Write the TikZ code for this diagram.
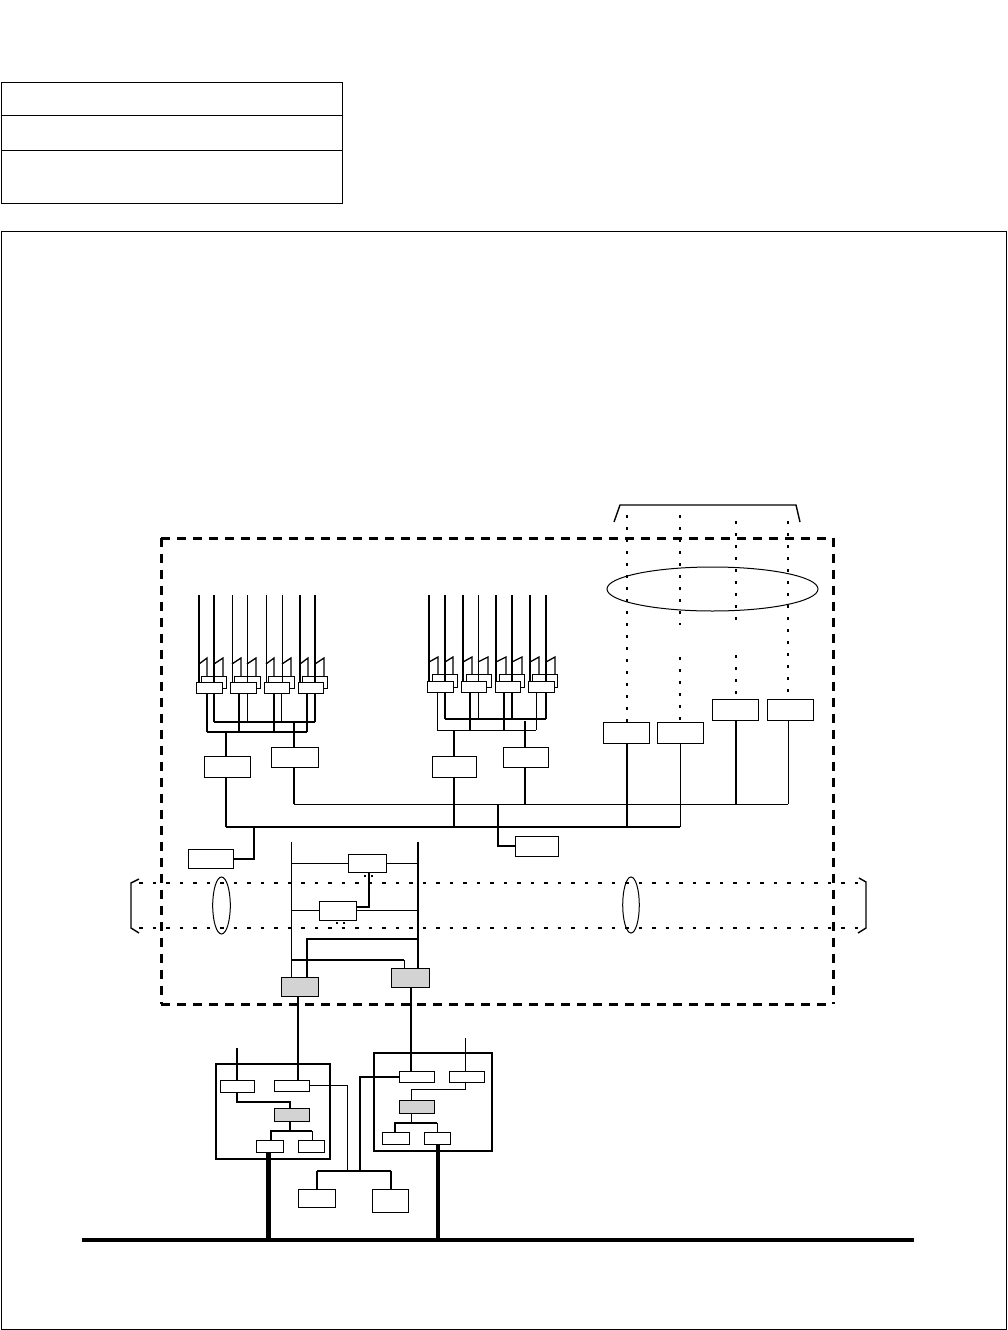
\documentclass[tikz,border=0pt]{standalone}
\usetikzlibrary{calc}
\pgfdeclarelayer{rear}\pgfdeclarelayer{wires}\pgfsetlayers{rear,wires,main}
\tikzset{
  boxstyle/.style={draw=black,line width=1pt,inner sep=0pt,outer sep=0pt,fill=white},
  grayfill/.style={fill=graybox},
  openbox/.style={fill=none},
  thin1/.style={line width=1pt},
  med/.style={line width=1.4pt},
  busline/.style={line width=1.2pt},
  hvy/.style={line width=2pt},
  dotline/.style={line width=2.4pt,dash pattern=on 3pt off 9pt},
  dothoriz/.style={line width=2.2pt,dash pattern=on 3.5pt off 10pt},
  bigdash/.style={line width=3pt,dash pattern=on 9pt off 7pt},
  tick/.style={line width=1.3pt,line join=miter}
}
\definecolor{graybox}{HTML}{D3D3D3}
\newcommand\bx[6][]{\node[boxstyle,#1,minimum width={(#5-#3)*1pt},minimum height={(#6-#4)*1pt}] (#2) at ({(#3+#5)/2},{(#4+#6)/2}) {};}
\begin{document}
\begin{tikzpicture}[x=1pt,y=-1pt]
\useasboundingbox (0,0) rectangle (1008,1330);
% frames
\bx[openbox]{tableA}{1}{82}{342}{115}
\bx[openbox]{tableB}{1}{115}{342}{150}
\bx[openbox]{tableC}{1}{150}{342}{203}
\bx[openbox]{outer}{1}{231}{1006}{1329}
\node[boxstyle,openbox,draw=none,minimum width=672pt,minimum height=466pt] (zone) at (497,771) {};
\begin{pgfonlayer}{wires}
\draw[bigdash] (zone.north west) -- (zone.north east);
\draw[bigdash] (zone.south west) -- (zone.south east);
\draw[bigdash] (zone.north west) -- (zone.south west);
\draw[bigdash] (zone.north east) -- (zone.south east);
\end{pgfonlayer}
% ---------- group 1 and 2 front and rear relay boxes
\begin{pgfonlayer}{rear}
\foreach \n/\a/\b in {1/201/226,2/234/260,3/268/294,4/302/327}{\bx{pb\n}{\a}{676}{\b}{688}}
\foreach \n/\a/\b in {1/432/457,2/466/491,3/499/524,4/532/557}{\bx{qb\n}{\a}{674}{\b}{687}}
\end{pgfonlayer}
\foreach \n/\a/\b in {1/196/222,2/230/256,3/264/289,4/298/323}{\bx{pf\n}{\a}{682}{\b}{693}}
\foreach \n/\a/\b in {1/427/453,2/461/486,3/495/520,4/528/554}{\bx{qf\n}{\a}{681}{\b}{692}}
\bx{pA}{204}{756}{250}{777}
\bx{pB}{271}{747}{318}{767}
\bx{qA}{432}{756}{476}{777}
\bx{qB}{503}{747}{548}{767}
% right hand boxes
\bx{rE}{603}{722}{649}{743}
\bx{rF}{657}{722}{703}{743}
\bx{rG}{712}{699}{758}{720}
\bx{rH}{767}{699}{813}{720}
\bx{sI}{188}{849}{233}{868}
\bx{sJ}{515}{836}{558}{856}
\bx{sK}{348}{854}{386}{872}
\bx{sL}{319}{901}{356}{920}
\bx[grayfill]{sM}{281}{977}{318}{996}
\bx[grayfill]{sN}{391}{968}{429}{987}
% lower units
\bx[openbox,line width=1.5pt]{unitQ}{216}{1064}{330}{1159}
\bx[openbox,line width=1.2pt]{unitR}{374}{1053}{492}{1151}
\bx{qS1}{220}{1080}{254}{1092}
\bx{qS2}{274}{1080}{309}{1091}
\bx[grayfill]{qT}{274}{1108}{309}{1121}
\bx{qU1}{256}{1140}{283}{1152}
\bx{qU2}{298}{1140}{324}{1152}
\bx{rW1}{399}{1071}{434}{1082}
\bx{rW2}{449}{1071}{484}{1082}
\bx[grayfill]{rX}{399}{1100}{434}{1113}
\bx{rY1}{382}{1132}{409}{1144}
\bx{rY2}{424}{1132}{450}{1144}
\bx{vA}{298}{1189}{335}{1207}
\bx{vB}{372}{1189}{408}{1212}
\node[boxstyle,openbox,draw=none,minimum width=211pt,minimum height=44pt] (oval1) at (712.5,589) {};
\begin{pgfonlayer}{wires}
% group 1 inputs
\foreach \k/\x/\tx/\w in {1/199/207/2pt,1/214/223/2pt,2/232/241/1pt,2/247/256/1pt,3/266/274/1pt,3/282/291/1pt,4/300/308/2pt,4/315/324/2pt}{
  \coordinate (pt\x) at (\x,595);
  \draw[line width=\w] (pt\x) -- (pt\x |- pf\k.north);
  \draw[tick] (\x,664) -- (\tx,658) -- (\tx,676);
}
% group 2 inputs
\foreach \k/\x/\tx/\w in {1/429/438/2pt,1/445/453/2pt,2/463/472/2pt,2/478/488/1pt,3/496/506/2pt,3/512/522/2pt,4/530/539/2pt,4/546/555/2pt}{
  \coordinate (qt\x) at (\x,595);
  \draw[line width=\w] (qt\x) -- (qt\x |- qf\k.north);
  \draw[tick] (\x,662) -- (\tx,657) -- (\tx,674);
}
% group 1 lower buses
\coordinate (pu1) at (214,722); \coordinate (pu2) at (315,722);
\coordinate (pv1) at (207,732); \coordinate (pv2) at (307,732);
\draw[hvy] (pu1) -- (pu2);
\draw[hvy] (pv1) -- (pv2);
\foreach \k/\x/\w in {1/207/1.3pt,2/239/2pt,3/274/2pt,4/307/2pt}{\draw[line width=\w] (pf\k.south -| \x,0) -- (\x,732);}
\foreach \k/\x/\w in {1/214/2pt,2/247/1pt,3/281/1pt,4/315/2pt}{\draw[line width=\w] (pf\k.south -| \x,0) -- (\x,722);}
\draw[hvy] (226,732) -- (pA.north -| 226,0);
\draw[hvy] (294,722) -- (pB.north -| 294,0);
% group 2 lower buses
\coordinate (qu1) at (445,719); \coordinate (qu2) at (546,719);
\coordinate (qv1) at (437,730); \coordinate (qv2) at (536,730);
\draw[hvy] (qu1) -- (qu2);
\draw[thin1] (qv1) -- (qv2);
\foreach \k/\x/\w in {1/437/1pt,2/470/2pt,3/504/2pt,4/536/1pt}{\draw[line width=\w] (qf\k.south -| \x,0) -- (\x,730);}
\foreach \k/\x/\w in {1/445/2pt,2/478/1pt,3/512/2pt,4/546/2pt}{\draw[line width=\w] (qf\k.south -| \x,0) -- (\x,719);}
\draw[hvy] (454,730) -- (qA.north -| 454,0);
\draw[hvy] (525,721) -- (qB.north -| 525,0);
% main horizontal buses
\coordinate (bus4a) at (294,804); \coordinate (bus4b) at (788,804);
\coordinate (bus8a) at (226,827); \coordinate (bus8b) at (680,827);
\draw[thin1] (bus4a) -- (bus4b);
\draw[busline] (bus8a) -- (bus8b);
\draw[med] (pA.south -| 226,0) -- (bus8a);
\draw[med] (pB.south -| 294,0) -- (bus4a);
\draw[med] (qA.south -| 454,0) -- (454,827);
\draw[med] (qB.south -| 525,0) -- (525,804);
\draw[hvy] (rE.south -| 627,0) -- (627,827);
\draw[thin1] (rF.south -| 680,0) -- (bus8b);
\draw[hvy] (rG.south -| 736,0) -- (736,804);
\draw[thin1] (rH.south -| 788,0) -- (bus4b);
\draw[hvy] (sI.east) -| (254,827);
\draw[med] (498,804) |- (sJ.west);
% dotted feeders
\coordinate (brk1) at (620,505); \coordinate (brk2) at (796,505);
\draw[med] (614,522) -- (brk1) -- (brk2) -- (800,522);
\draw[dotline] (627,515) -- (rE.north -| 627,0);
\draw[dotline] (680,515) -- (680,625);
\draw[dotline] (680,657) -- (rF.north -| 680,0);
\draw[dotline] (736,521) -- (736,622);
\draw[dotline] (736,655) -- (rG.north -| 736,0);
\draw[dotline] (788,521) -- (rH.north -| 788,0);
% horizontal dotted pair with brackets
\coordinate (dA1) at (139,883); \coordinate (dA2) at (861,883);
\coordinate (dB1) at (139,928); \coordinate (dB2) at (861,928);
\draw[dothoriz] (dA1) -- (dA2);
\draw[dothoriz] (dB1) -- (dB2);
\draw[med] (139,879) -- (131,883) -- (131,928) -- (139,933);
\draw[med] (859,878) -- (866,882) -- (866,928) -- (858,933);
% centre rails
\coordinate (railA) at (291,842); \coordinate (railB) at (418,842);
\draw[thin1] (railA) -- (railA |- sM.north);
\draw[med] (railB) -- (railB |- sN.north);
\draw[thin1] (sK.west) -- (sK.west -| railA);
\draw[thin1] (sK.east) -- (sK.east -| railB);
\draw[thin1] (sL.west) -- (sL.west -| railA);
\draw[thin1] (sL.east) -- (sL.east -| railB);
\draw[hvy] (356,907) -| (369,872);
\draw[line width=1.5pt,dash pattern=on 1.5pt off 5.5pt] (365,875) -- (365,877);
\draw[line width=1.5pt,dash pattern=on 1.5pt off 5.5pt] (372,875) -- (372,877);
\draw[line width=1.5pt,dash pattern=on 1.5pt off 5.5pt] (337,922) -- (337,924);
\draw[line width=1.5pt,dash pattern=on 1.5pt off 5.5pt] (344,922) -- (344,924);
\draw[hvy] (sM.north -| 307,0) |- (418,939);
\draw[med] (291,960) -- (404,960);
\draw[thin1] (404,960) -- (sN.north -| 404,0);
% links to lower units
\draw[hvy] (sM.south -| 298,0) -- (qS2.north -| 298,0);
\draw[hvy] (sN.south -| 411,0) -- (rW1.north -| 411,0);
\coordinate (inL) at (237,1048); \coordinate (inR) at (465,1038);
\draw[med] (inL) -- (inL |- qS1.north);
\draw[thin1] (inR) -- (inR |- rW2.north);
\draw[hvy] (qS1.south) |- (290,1102) -- (qT.north -| 290,0);
\draw[hvy] (qT.south -| 290,0) -- (290,1131);
\draw[hvy] (qU1.north -| 271,0) |- (312,1131);
\draw[thin1] (312,1131) -- (qU2.north -| 312,0);
\draw[thin1] (qS2.east) -| (347,1171);
\coordinate (busV1) at (317,1171); \coordinate (busV2) at (391,1171);
\draw[hvy] (busV1) -- (busV2);
\draw[hvy] (vA.north -| 317,0) -- (busV1);
\draw[hvy] (vB.north -| 391,0) -- (busV2);
\draw[hvy] (360,1171) |- (rW1.west);
\draw[thin1] (rW2.south -| 465,0) |- (411,1089) -- (rX.north -| 411,0);
\draw[thin1] (rX.south -| 411,0) -- (411,1123);
\draw[hvy] (rY1.north -| 395,0) |- (437,1123);
\draw[thin1] (437,1123) -- (rY2.north -| 437,0);
% main bus
\coordinate (mainL) at (82,1240); \coordinate (mainR) at (914,1240);
\draw[line width=3.5pt] (mainL) -- (mainR);
\draw[line width=5pt] (qU1.south -| 268,0) -- (268,1240);
\draw[line width=4pt] (rY2.south -| 438,0) -- (438,1240);
\end{pgfonlayer}
% ellipses
\draw[thin1] (oval1.center) ellipse [x radius=105.5,y radius=22];
\node[boxstyle,openbox,draw=none] (oval2) at (221.5,905.5) {};
\node[boxstyle,openbox,draw=none] (oval3) at (631,905) {};
\draw[thin1] (oval2.center) ellipse [x radius=8.8,y radius=28.5];
\draw[thin1] (oval3.center) ellipse [x radius=8.3,y radius=28];
\end{tikzpicture}
\end{document}
